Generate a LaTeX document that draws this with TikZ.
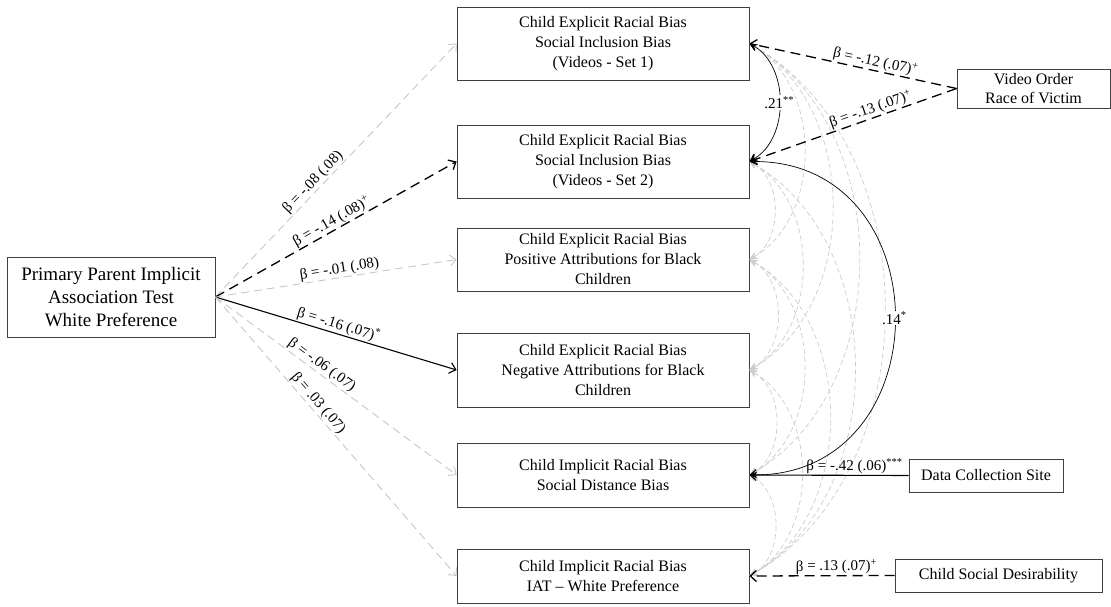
\documentclass[tikz,border=0pt]{standalone}
\usepackage{fontspec}
\setmainfont{Liberation Serif}
\usepackage{xcolor}
\usepackage{tikz}
\usetikzlibrary{arrows.meta, positioning}

\begin{document}
\begin{tikzpicture}[
            x=1pt, y=-1pt,
            var/.style={draw=black!75, line width=0.8pt, align=center, inner sep=1pt, font=\fontsize{16}{20}\selectfont},
            mid/.style={var, minimum width=292pt},
            reg/.style={-{Straight Barb[length=6pt, width=11pt]}, line width=1.1pt},
            regns/.style={reg, draw=black!22, line width=0.9pt, dash pattern=on 8pt off 5pt},
            regtrend/.style={reg, line width=1.3pt, dash pattern=on 10pt off 6pt},
            cov/.style={{Stealth[length=8pt, width=7pt]}-{Stealth[length=8pt, width=7pt]}, line width=0.7pt},
            covns/.style={cov, draw=black!20, dash pattern=on 5pt off 3pt, bend left=60},
            coef/.style={font=\fontsize{15}{18}\selectfont, sloped, above, inner sep=1pt}
        ]
        \useasboundingbox (0,0) rectangle (1111,607);

        % Nodes (manual layout to match figure)
        \node[var, font=\fontsize{19}{23}\selectfont, minimum width=208pt, minimum height=80pt] (ppiat) at (111,297) {Primary Parent Implicit\\Association Test\\White Preference};

        \node[mid, minimum height=73pt] (vid1) at (603,43.5) {Child Explicit Racial Bias\\Social Inclusion Bias\\(Videos - Set 1)};
        \node[mid, minimum height=73pt] (vid2) at (603,161.5) {Child Explicit Racial Bias\\Social Inclusion Bias\\(Videos - Set 2)};
        \node[mid, minimum height=63pt] (pos) at (603,259.5) {Child Explicit Racial Bias\\Positive Attributions for Black\\Children};
        \node[mid, minimum height=74pt] (neg) at (603,370) {Child Explicit Racial Bias\\Negative Attributions for Black\\Children};
        \node[mid, minimum height=64pt] (sdb) at (603,475) {Child Implicit Racial Bias\\Social Distance Bias};
        \node[mid, minimum height=54pt] (iat) at (603,576) {Child Implicit Racial Bias\\IAT -- White Preference};

        \node[var, minimum width=153pt, minimum height=39pt, font=\fontsize{16}{19}\selectfont] (order) at (1033.5,88.5) {Video Order\\Race of Victim};
        \node[var, minimum width=154pt, minimum height=33pt] (site) at (986,475.5) {Data Collection Site};
        \node[var, minimum width=207pt, minimum height=33pt] (desir) at (998.5,575.5) {Child Social Desirability};

        % Covariances
        \draw[covns] (vid1.east) to (pos.east);
        \draw[covns] (vid1.east) to (neg.east);
        \draw[covns] (vid1.east) to (sdb.east);
        \draw[covns] (vid1.east) to (iat.east);
        \draw[covns] (vid2.east) to (pos.east);
        \draw[covns] (vid2.east) to (neg.east);
        \draw[covns] (vid2.east) to (iat.east);
        \draw[covns] (pos.east) to (neg.east);
        \draw[covns] (pos.east) to (sdb.east);
        \draw[covns] (pos.east) to (iat.east);
        \draw[covns] (neg.east) to (sdb.east);
        \draw[covns] (neg.east) to (iat.east);
        \draw[covns] (sdb.east) to (iat.east);

        \draw[cov, bend left=60] (vid1.east) to node[fill=white, inner sep=1pt, font=\fontsize{15}{18}\selectfont] {.21\textsuperscript{**}} (vid2.east);
        \draw[cov, out=0, in=0, looseness=1.58] (vid2.east) to node[fill=white, inner sep=1pt, font=\fontsize{15}{18}\selectfont] {.14\textsuperscript{*}} (sdb.east);

        % Paths
        \draw[regns] (ppiat.east) -- node[coef, pos=0.43] {β = -.08 (.08)} (vid1.west);
        \draw[regtrend] (ppiat.east) -- node[coef, pos=0.5] {β = -.14 (.08)\textsuperscript{+}} (vid2.west);
        \draw[regns] (ppiat.east) -- node[coef, pos=0.52] {β = -.01 (.08)} (pos.west);
        \draw[reg] (ppiat.east) -- node[coef, pos=0.5] {β = -.16 (.07)\textsuperscript{*}} (neg.west);
        \draw[regns] (ppiat.east) -- node[coef, pos=0.42] {β = -.06 (.07)} (sdb.west);
        \draw[regns] (ppiat.east) -- node[coef, pos=0.4] {β = .03 (.07)} (iat.west);

        \draw[regtrend] (order.west) -- node[coef, pos=0.4] {β = -.12 (.07)\textsuperscript{+}} (vid1.east);
        \draw[regtrend] (order.west) -- node[coef, pos=0.4] {β = -.13 (.07)\textsuperscript{+}} (vid2.east);

        \draw[reg] (site.west) -- node[coef, pos=0.34] {β = -.42 (.06)\textsuperscript{***}} (sdb.east);
        \draw[regtrend] (desir.west) -- node[coef, pos=0.4] {β = .13 (.07)\textsuperscript{+}} (iat.east);

    \end{tikzpicture}
\end{document}
